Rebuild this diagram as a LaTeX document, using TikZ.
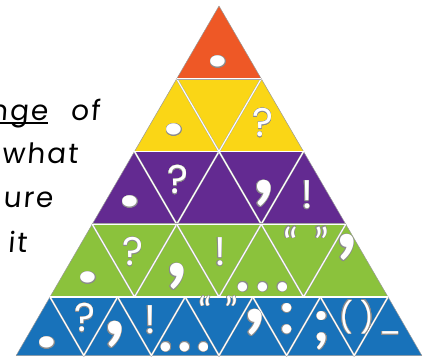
\documentclass[tikz,border=0pt]{standalone}
\usepackage{graphicx}
\usepackage{fontspec}
\usepackage{contour}
\newfontfamily\handfont[LetterSpace=7,FakeSlant=0.08]{Poppins}
\newfontfamily\puncfont{Poppins}
\newfontfamily\roundfont{Lato}
\contourlength{0.45pt}
\newcommand{\cutout}[1]{\contour{black!45}{#1}}
\newcommand{\flatstop}{\cutout{\scalebox{1}[0.78]{.}}}
\definecolor{pyrorange}{RGB}{238,88,38}
\definecolor{pyryellow}{RGB}{250,214,22}
\definecolor{pyrpurple}{RGB}{99,42,145}
\definecolor{pyrgreen}{RGB}{139,194,60}
\definecolor{pyrblue}{RGB}{24,114,186}

\begin{document}
\begin{tikzpicture}[x=1pt, y=-1pt,
          % Tiers and the white seams between the pieces
          tier/.style={draw=black!40, line width=0.5pt, line join=round},
          seam/.style={draw=black!35, line width=0.4pt, double=white, double distance=1.1pt},
          % Cut-out punctuation
          punc/.style={inner sep=0pt, text=white, font=\puncfont\fontsize{40}{40}\selectfont},
          dotpunc/.style={punc, font=\roundfont\bfseries\fontsize{96}{96}\selectfont},
          smalldots/.style={punc, font=\roundfont\bfseries\fontsize{62}{62}\selectfont},
          twodots/.style={punc, font=\roundfont\bfseries\fontsize{60}{60}\selectfont},
          commapunc/.style={punc, font=\roundfont\bfseries\fontsize{92}{92}\selectfont},
          quotepunc/.style={punc, font=\roundfont\fontsize{40}{40}\selectfont},
          smallpunc/.style={punc, font=\puncfont\fontsize{30}{30}\selectfont},
          % Words on the left
          words/.style={anchor=base east, inner sep=0pt, font=\handfont\fontsize{28}{28}\selectfont}
        ]
          \useasboundingbox (0,0) rectangle (433,356);

          % ==========================================
          % 1. Top four tiers
          % ==========================================
          \foreach \k/\col in {1/pyrorange,2/pyryellow,3/pyrpurple,4/pyrgreen}{
            \pgfmathsetmacro\yt{6+(\k-1)*72.75}
            \pgfmathsetmacro\yb{\yt+72.75}
            \pgfmathsetmacro\xl{219-\k*42.25}
            \pgfmathsetmacro\xr{219+\k*42.25}
            \filldraw[tier, fill=\col] (\xl,\yb) -- (\xr,\yb) -- ({\xr-42.25},\yt) -- ({\xl+42.25},\yt) -- cycle;
            \ifnum\k>1
              \pgfmathtruncatemacro\last{\k-1}
              \foreach \i in {1,...,\last}{
                \draw[seam] ({\xl+(\i-0.5)*84.5},\yt) -- ({\xl+\i*84.5},\yb) -- ({\xl+(\i+0.5)*84.5},\yt);
              }
            \fi
          }

          % ==========================================
          % 2. Bottom tier (smaller pieces)
          % ==========================================
          \filldraw[tier, fill=pyrblue] (16.2,355.5) -- (421.8,355.5) -- (388,297) -- (50,297) -- cycle;
          \foreach \i in {1,...,5}{
            \draw[seam] ({16.2+(\i-0.5)*67.6},297) -- ({16.2+\i*67.6},355.5) -- ({16.2+(\i+0.5)*67.6},297);
          }

          % seams between the tiers
          \foreach \yy in {78.75,151.5,224.25,297}{
            \draw[seam] ({219-(\yy-6)*0.5808},\yy) -- ({219+(\yy-6)*0.5808},\yy);
          }

          % ==========================================
          % 3. Punctuation pieces
          % ==========================================
          % orange
          \node[dotpunc] (stop_o) at (218,62) {\flatstop};
          % yellow
          \node[dotpunc] (stop_y) at (174,130) {\flatstop};
          \node[punc] (query_y) at (263,123) {\cutout{?}};
          % purple
          \node[dotpunc] (stop_p) at (130,202) {\flatstop};
          \node[punc] (query_p) at (178,180) {\cutout{?}};
          \node[commapunc] (comma_p) at (264,194) {\cutout{,}};
          \node[punc] (bang_p) at (307,195) {\cutout{!}};
          % green
          \node[dotpunc] (stop_g) at (88,278) {\flatstop};
          \node[punc] (query_g) at (133,252) {\cutout{?}};
          \node[commapunc] (comma_g) at (177,277) {\cutout{,}};
          \node[punc] (bang_g) at (220,252) {\cutout{!}};
          \node[smalldots] (dots_g) at (263,287) {\cutout{.\hspace{5pt}.\hspace{5pt}.}};
          \node[quotepunc] (quotes_g) at (306,242) {\cutout{“\hspace{16pt}”}};
          \node[commapunc] (apos_g) at (347,248) {\cutout{,}};
          % blue
          \node[dotpunc] (stop_b) at (47,343) {\flatstop};
          \node[punc] (query_b) at (85,318) {\cutout{?}};
          \node[commapunc] (comma_b) at (115,335) {\cutout{,}};
          \node[punc] (bang_b) at (150,320) {\cutout{!}};
          \node[smalldots] (dots_b) at (185,347) {\cutout{.\hspace{4pt}.\hspace{4pt}.}};
          \node[quotepunc, font=\roundfont\fontsize{36}{36}\selectfont] (quotes_b) at (218,310) {\cutout{“\hspace{13pt}”}};
          \node[commapunc] (apos_b) at (255,323) {\cutout{,}};
          \node[twodots] (colon_b) at (287,319) {\cutout{:}};
          \node[twodots] (semi_b) at (322,331) {\cutout{;}};
          \node[smallpunc] (brackets_b) at (357,317) {\cutout{(\hspace{8pt})}};
          \node[smallpunc] (dash_b) at (390,333) {\cutout{\_}};

          % ==========================================
          % 4. Words on the left
          % ==========================================
          \node[words] (word_nge) at (48,120) {nge};
          \node[words] (word_of) at (100,120) {of};
          \node[words] (word_what) at (78,163) {what};
          \node[words] (word_ure) at (53,207) {ure};
          \node[words] (word_it) at (27,252) {it};
          \draw[line width=1.3pt] ([yshift=-3pt]word_nge.base west) -- ([yshift=-3pt]word_nge.base east);
        \end{tikzpicture}
\end{document}
